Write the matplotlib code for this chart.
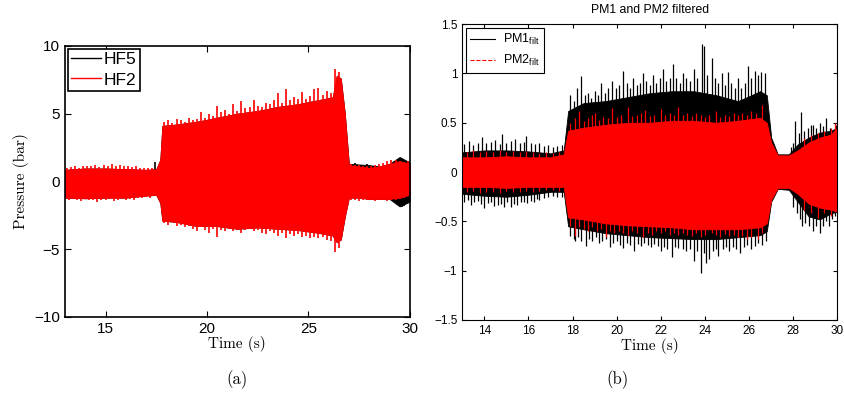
import matplotlib

matplotlib.use("Agg")
import matplotlib.pyplot as plt
import numpy as np

plt.rcParams["font.family"] = ["Liberation Sans", "DejaVu Sans"]
plt.rcParams["mathtext.default"] = "regular"

# ---- panel (a): HF5 / HF2 pressure, band envelopes ----
t_a = [13.0, 14.0, 15.0, 16.0, 17.0, 17.5, 17.7, 17.8, 18.5, 19.5, 20.5, 21.5,
       22.5, 23.5, 24.5, 25.5, 26.2, 26.4, 26.6, 26.8, 27.0, 27.5, 28.0, 28.5,
       29.0, 29.5, 30.0]
hf2_hi = [0.85, 0.95, 0.95, 0.9, 0.85, 0.9, 1.6, 4.1, 4.2, 4.4, 4.7, 5.0,
          5.2, 5.5, 5.7, 6.0, 6.2, 7.8, 7.6, 5.0, 1.2, 1.1, 1.0, 1.1,
          1.3, 1.5, 1.3]
hf2_lo = [-1.2, -1.25, -1.2, -1.2, -1.05, -1.0, -1.6, -2.9, -3.0, -3.3, -3.3, -3.5,
          -3.4, -3.5, -3.6, -3.8, -4.0, -4.5, -4.3, -2.6, -1.2, -1.2, -1.3, -1.3,
          -1.3, -1.2, -1.0]
hf5_hi = [0.85, 0.95, 0.95, 0.9, 0.85, 0.9, 1.6, 4.1, 4.2, 4.4, 4.7, 5.0,
          5.2, 5.5, 5.7, 6.0, 6.2, 7.8, 7.6, 5.0, 1.3, 1.25, 1.2, 1.1,
          1.3, 1.8, 1.4]
hf5_lo = [-1.2, -1.25, -1.2, -1.2, -1.05, -1.0, -1.6, -2.9, -3.0, -3.3, -3.3, -3.5,
          -3.4, -3.5, -3.6, -3.8, -4.0, -4.5, -4.3, -2.6, -1.2, -1.2, -1.3, -1.3,
          -1.3, -1.85, -1.5]

# peaks poking out of the dense band: upper edge first, then lower edge
hf2_spk_t = [13.1, 13.3, 13.5, 13.7, 13.9, 14.1, 14.3, 14.5, 14.7, 14.9, 15.1,
             15.3, 15.5, 15.7, 15.9, 16.1, 16.3, 16.5, 16.7, 16.9, 17.1, 17.3,
             17.9, 18.1, 18.3, 18.5, 18.7, 18.9, 19.1, 19.3, 19.5, 19.7, 19.9,
             20.1, 20.3, 20.5, 20.7, 20.9, 21.1, 21.3, 21.5, 21.7, 21.9, 22.1,
             22.3, 22.5, 22.7, 22.9, 23.1, 23.3, 23.5, 23.7, 23.9, 24.1, 24.3,
             24.5, 24.7, 24.9, 25.1, 25.3, 25.5, 25.7, 25.9, 26.1, 26.3, 26.5,
             27.1, 27.3, 27.5, 27.7, 27.9, 28.1, 28.3, 28.5, 28.7, 28.9, 29.1,
             29.3, 29.5, 29.7, 29.9,
             13.2, 13.4, 13.6, 13.8, 14.0, 14.2, 14.4, 14.6, 14.8, 15.0, 15.2,
             15.4, 15.6, 15.8, 16.0, 16.2, 16.4, 16.6, 16.8, 17.0, 17.2,
             17.9, 18.1, 18.3, 18.5, 18.7, 18.9, 19.1, 19.3, 19.5, 19.7, 19.9,
             20.1, 20.3, 20.5, 20.7, 20.9, 21.1, 21.3, 21.5, 21.7, 21.9, 22.1,
             22.3, 22.5, 22.7, 22.9, 23.1, 23.3, 23.5, 23.7, 23.9, 24.1, 24.3,
             24.5, 24.7, 24.9, 25.1, 25.3, 25.5, 25.7, 25.9, 26.1, 26.3, 26.5,
             27.1, 27.3, 27.5, 27.7, 27.9, 28.1, 28.3, 28.5, 28.7, 28.9, 29.1,
             29.3, 29.5, 29.7, 29.9]
hf2_spk_v = [1.0, 1.05, 1.1, 0.95, 1.1, 1.15, 1.1, 1.2, 1.05, 1.2, 1.1,
             1.25, 1.15, 1.2, 1.1, 1.15, 1.05, 1.1, 1.0, 0.95, 0.95, 1.0,
             4.4, 4.5, 4.3, 4.6, 4.5, 4.4, 4.7, 4.5, 4.6, 5.1, 4.7,
             5.0, 4.8, 5.6, 5.1, 5.3, 5.0, 5.7, 5.2, 5.9, 5.4, 5.5,
             6.0, 5.6, 5.5, 5.8, 5.7, 6.0, 6.5, 5.8, 6.8, 6.0, 6.2,
             6.1, 6.6, 6.1, 6.3, 6.8, 6.9, 6.4, 6.7, 6.5, 8.3, 8.1,
             1.25, 1.2, 1.2, 1.15, 1.1, 1.15, 1.2, 1.3, 1.35, 1.5, 1.55,
             1.6, 1.5, 1.4, 1.5,
             -1.35, -1.3, -1.4, -1.45, -1.3, -1.4, -1.35, -1.5, -1.35, -1.4, -1.3,
             -1.45, -1.35, -1.3, -1.4, -1.3, -1.35, -1.25, -1.2, -1.15, -1.2,
             -3.1, -3.2, -3.0, -3.3, -3.2, -3.4, -3.3, -3.5, -3.7, -3.4, -3.6,
             -3.8, -3.5, -4.1, -3.6, -3.7, -3.5, -3.7, -3.6, -3.8, -3.6, -3.5,
             -3.7, -3.6, -3.8, -3.9, -3.7, -3.8, -4.0, -3.8, -4.2, -3.9, -4.0,
             -3.9, -4.1, -4.0, -4.2, -4.1, -4.2, -4.1, -4.3, -4.4, -5.2, -4.9,
             -1.35, -1.4, -1.45, -1.4, -1.35, -1.4, -1.45, -1.4, -1.4, -1.45, -1.4,
             -1.35, -1.3, -1.2, -1.1]
hf5_spk_t = [17.42, 27.3, 27.9, 29.6, 29.7]
hf5_spk_v = [1.45, 1.35, 1.25, -1.9, -1.85]

# ---- panel (b): PM1 / PM2 filtered ----
t_b = [13.0, 14.0, 15.0, 16.0, 17.0, 17.6, 17.8, 18.5, 19.5, 20.5, 21.5, 22.5,
       23.5, 24.5, 25.5, 26.5, 26.8, 27.0, 27.3, 27.8, 28.2, 28.7, 29.2, 29.7, 30.0]
pm1_hi = [0.2, 0.22, 0.22, 0.21, 0.19, 0.22, 0.62, 0.7, 0.72, 0.76, 0.8, 0.82,
          0.82, 0.78, 0.72, 0.82, 0.78, 0.35, 0.18, 0.18, 0.28, 0.35, 0.4, 0.42, 0.45]
pm1_lo = [-0.22, -0.24, -0.25, -0.23, -0.2, -0.2, -0.55, -0.58, -0.62, -0.64, -0.66, -0.67,
          -0.68, -0.68, -0.66, -0.64, -0.6, -0.3, -0.17, -0.18, -0.3, -0.45, -0.48, -0.42, -0.4]
pm2_hi = [0.15, 0.15, 0.16, 0.15, 0.15, 0.18, 0.42, 0.45, 0.48, 0.5, 0.5, 0.52,
          0.52, 0.5, 0.52, 0.55, 0.5, 0.3, 0.17, 0.17, 0.22, 0.3, 0.35, 0.38, 0.45]
pm2_lo = [-0.15, -0.15, -0.16, -0.15, -0.15, -0.15, -0.46, -0.48, -0.52, -0.54, -0.55, -0.56,
          -0.58, -0.58, -0.58, -0.56, -0.52, -0.28, -0.16, -0.16, -0.22, -0.32, -0.36, -0.38, -0.4]

pm1_spk_t = [13.1, 13.3, 13.5, 13.7, 13.9, 14.1, 14.3, 14.5, 14.7, 14.8, 15.0,
             15.2, 15.4, 15.6, 15.8, 15.9, 16.1, 16.3, 16.5, 16.7, 16.9, 17.1,
             17.3, 17.5,
             17.9, 18.05, 18.2, 18.4, 18.55, 18.7, 18.85, 19.0, 19.15, 19.3, 19.45,
             19.6, 19.8, 19.95, 20.1, 20.3, 20.45, 20.6, 20.75, 20.9, 21.05, 21.2,
             21.35, 21.5, 21.65, 21.8, 21.95, 22.1, 22.25, 22.4, 22.55, 22.7, 22.85,
             23.0, 23.15, 23.3, 23.5, 23.65, 23.85, 23.95, 24.1, 24.3, 24.45, 24.6,
             24.75, 24.9, 25.05, 25.2, 25.35, 25.5, 25.65, 25.8, 25.95, 26.1, 26.25,
             26.4, 26.55, 26.7,
             27.9, 28.0, 28.1, 28.25, 28.37, 28.5, 28.65, 28.8, 28.9, 29.05, 29.2,
             29.35, 29.5, 29.65, 29.8, 29.95,
             13.1, 13.25, 13.4, 13.55, 13.7, 13.85, 14.0, 14.15, 14.3, 14.45, 14.6,
             14.75, 14.9, 15.05, 15.2, 15.35, 15.5, 15.65, 15.8, 15.95, 16.1, 16.25,
             16.4, 16.5, 16.7, 16.9, 17.1, 17.3, 17.5,
             17.9, 18.05, 18.1, 18.25, 18.4, 18.6, 18.75, 18.9, 19.05, 19.2, 19.35,
             19.5, 19.7, 19.85, 20.0, 20.15, 20.3, 20.45, 20.6, 20.8, 20.95, 21.1,
             21.25, 21.4, 21.55, 21.7, 21.85, 22.0, 22.15, 22.3, 22.5, 22.65, 22.8,
             23.0, 23.15, 23.3, 23.5, 23.65, 23.8, 23.95, 24.05, 24.2, 24.35, 24.5,
             24.6, 24.8, 24.95, 25.1, 25.25, 25.4, 25.6, 25.75, 25.9, 26.1, 26.25,
             26.4, 26.6, 26.75,
             28.0, 28.15, 28.3, 28.4, 28.55, 28.7, 28.9, 29.05, 29.2, 29.35, 29.5,
             29.6, 29.75, 29.9]
pm1_spk_v = [0.28, 0.32, 0.27, 0.3, 0.36, 0.29, 0.31, 0.33, 0.28, 0.39, 0.3,
             0.32, 0.34, 0.29, 0.31, 0.37, 0.3, 0.28, 0.3, 0.26, 0.27, 0.25,
             0.26, 0.27,
             0.78, 0.72, 0.85, 0.97, 0.78, 0.8, 0.75, 0.82, 0.78, 0.9, 0.8,
             0.85, 0.92, 0.85, 0.88, 1.03, 0.9, 0.85, 0.95, 0.88, 0.9, 1.0,
             0.92, 0.88, 0.98, 0.9, 0.95, 1.05, 0.92, 0.95, 1.1, 0.95, 0.9,
             1.0, 0.95, 0.92, 1.05, 0.95, 1.3, 1.28, 0.98, 1.16, 0.95, 0.9,
             1.0, 0.88, 1.02, 0.9, 0.85, 0.95, 0.85, 0.9, 1.08, 0.95, 1.03,
             0.98, 1.02, 1.0,
             0.25, 0.3, 0.52, 0.4, 0.61, 0.42, 0.45, 0.48, 0.48, 0.45, 0.5,
             0.47, 0.55, 0.45, 0.42, 0.48,
             -0.3, -0.28, -0.33, -0.3, -0.29, -0.32, -0.36, -0.31, -0.3, -0.34, -0.33,
             -0.32, -0.35, -0.3, -0.35, -0.32, -0.33, -0.3, -0.3, -0.31, -0.29, -0.3,
             -0.27, -0.28, -0.26, -0.25, -0.24, -0.25, -0.25,
             -0.65, -0.68, -0.7, -0.66, -0.7, -0.75, -0.68, -0.7, -0.66, -0.72, -0.7,
             -0.68, -0.76, -0.72, -0.7, -0.74, -0.77, -0.72, -0.74, -0.8, -0.73, -0.75,
             -0.72, -0.74, -0.76, -0.73, -0.75, -0.8, -0.76, -0.78, -0.86, -0.76, -0.77,
             -0.78, -0.8, -0.78, -0.9, -0.8, -1.02, -0.82, -0.92, -0.88, -0.8, -0.78,
             -0.85, -0.78, -0.76, -0.8, -0.76, -0.78, -0.82, -0.76, -0.74, -0.78, -0.75,
             -0.72, -0.74, -0.7,
             -0.35, -0.42, -0.48, -0.55, -0.52, -0.55, -0.6, -0.55, -0.62, -0.55, -0.5,
             -0.55, -0.48, -0.45]

pm2_spk_t = [13.2, 13.5, 13.8, 14.1, 14.4, 14.7, 15.0, 15.3, 15.6, 15.9, 16.2,
             16.5, 16.8, 17.1, 17.4,
             17.9, 18.1, 18.3, 18.5, 18.7, 18.9, 19.0, 19.2, 19.4, 19.6, 19.8,
             20.0, 20.2, 20.5, 20.7, 20.9, 21.1, 21.3, 21.5, 21.7, 22.0, 22.2,
             22.4, 22.6, 22.8, 23.0, 23.2, 23.4, 23.6, 23.8, 24.0, 24.2, 24.5,
             24.7, 24.9, 25.1, 25.3, 25.5, 25.7, 25.9, 26.1, 26.3, 26.6,
             28.5, 28.8, 29.1, 29.4, 29.7, 29.9,
             13.2, 13.5, 13.8, 14.1, 14.4, 14.7, 15.0, 15.3, 15.6, 15.9, 16.2,
             16.5, 16.8, 17.1, 17.4,
             17.9, 18.1, 18.3, 18.5, 18.7, 18.9, 19.1, 19.3, 19.5, 19.7, 19.9,
             20.1, 20.3, 20.5, 20.7, 20.9, 21.2, 21.4, 21.6, 21.8, 22.0, 22.2,
             22.4, 22.6, 22.8, 23.0, 23.2, 23.4, 23.6, 23.8, 24.0, 24.3, 24.5,
             24.7, 24.9, 25.1, 25.3, 25.5, 25.7, 25.9, 26.1, 26.4, 26.6,
             28.5, 28.8, 29.1, 29.4, 29.7, 29.9]
pm2_spk_v = [0.2, 0.22, 0.2, 0.21, 0.2, 0.22, 0.2, 0.21, 0.2, 0.21, 0.2,
             0.19, 0.2, 0.19, 0.2,
             0.5, 0.55, 0.62, 0.52, 0.55, 0.58, 0.6, 0.53, 0.56, 0.55, 0.65,
             0.56, 0.58, 0.66, 0.57, 0.58, 0.6, 0.63, 0.57, 0.58, 0.64, 0.58,
             0.6, 0.58, 0.66, 0.58, 0.6, 0.57, 0.6, 0.58, 0.56, 0.58, 0.62,
             0.56, 0.58, 0.57, 0.6, 0.58, 0.6, 0.58, 0.62, 0.6, 0.68,
             0.35, 0.38, 0.4, 0.42, 0.45, 0.5,
             -0.2, -0.19, -0.21, -0.2, -0.2, -0.21, -0.19, -0.2, -0.2, -0.19, -0.2,
             -0.19, -0.18, -0.18, -0.19,
             -0.55, -0.65, -0.56, -0.58, -0.6, -0.56, -0.6, -0.58, -0.66, -0.6, -0.62,
             -0.6, -0.62, -0.64, -0.6, -0.62, -0.66, -0.62, -0.64, -0.6, -0.62, -0.6,
             -0.64, -0.62, -0.64, -0.62, -0.64, -0.65, -0.62, -0.66, -0.64, -0.62, -0.64,
             -0.66, -0.63, -0.65, -0.64, -0.66, -0.65, -0.68, -0.66, -0.68, -0.62,
             -0.38, -0.42, -0.47, -0.42, -0.45, -0.4]

RED = "#ff0000"


def band(ax, t, lo, hi, spk_t, spk_v, color, z, lw):
    ax.fill_between(t, lo, hi, color=color, lw=0.6, edgecolor=color, zorder=z)
    ax.vlines(spk_t, 0, spk_v, color=color, lw=lw, zorder=z + 0.5)


fig = plt.figure(figsize=(8.45, 4.03), dpi=100)

# (a)
ax = fig.add_axes([0.0769, 0.214, 0.408, 0.672])
band(ax, t_a, hf5_lo, hf5_hi, hf5_spk_t, hf5_spk_v, "black", 1, 1.2)
band(ax, t_a, hf2_lo, hf2_hi, hf2_spk_t, hf2_spk_v, RED, 2, 1.2)
ax.plot([], [], color="black", lw=1, label="HF5")
ax.plot([], [], color=RED, lw=1, label="HF2")
ax.set_xlim(13, 30)
ax.set_ylim(-10, 10)
ax.set_xticks([15, 20, 25, 30])
ax.set_yticks([-10, -5, 0, 5, 10])
ax.tick_params(direction="in", top=True, right=True, labelsize=11, length=4)
for s in ax.spines.values():
    s.set_linewidth(1.2)
ax.set_ylabel("Pressure (bar)", family="cmr10", fontsize=11, labelpad=4)
ax.set_xlabel("Time (s)", family="cmr10", fontsize=11, labelpad=0)
leg = ax.legend(loc="upper left", fontsize=12.5, fancybox=False, framealpha=1,
                edgecolor="black", borderpad=0.2, handlelength=1.7,
                handletextpad=0.2, labelspacing=0.3, borderaxespad=0.15)
leg.get_frame().set_linewidth(1.2)
leg.set_zorder(10)

# (b)
ax = fig.add_axes([0.547, 0.206, 0.444, 0.734])
band(ax, t_b, pm1_lo, pm1_hi, pm1_spk_t, pm1_spk_v, "black", 1, 0.9)
band(ax, t_b, pm2_lo, pm2_hi, pm2_spk_t, pm2_spk_v, RED, 2, 0.9)
ax.plot([], [], color="black", lw=0.8, label="PM1$_{filt}$")
ax.plot([], [], color=RED, lw=0.8, ls="--", label="PM2$_{filt}$")
ax.set_xlim(13, 30)
ax.set_ylim(-1.5, 1.5)
ax.set_xticks(np.arange(14, 31, 2))
ax.set_yticks([-1.5, -1, -0.5, 0, 0.5, 1, 1.5])
ax.set_yticklabels(["\u22121.5", "\u22121", "\u22120.5", "0", "0.5", "1", "1.5"])
ax.tick_params(direction="in", top=True, right=True, labelsize=8.5, length=3)
for s in ax.spines.values():
    s.set_linewidth(0.8)
ax.set_title("PM1 and PM2 filtered", fontsize=8.8, pad=8)
ax.set_xlabel("Time (s)", family="cmr10", fontsize=11, labelpad=1)
leg = ax.legend(loc="upper left", fontsize=9, fancybox=False, framealpha=1,
                edgecolor="black", borderpad=0.35, handlelength=2.0,
                handletextpad=0.6, labelspacing=0.45, borderaxespad=0.3)
leg.get_frame().set_linewidth(0.8)
leg.set_zorder(10)

fig.text(0.2805, 0.057, "(a)", family="cmr10", fontsize=12, ha="center", va="center")
fig.text(0.731, 0.057, "(b)", family="cmr10", fontsize=12, ha="center", va="center")

fig.savefig("out.png", dpi=100)
